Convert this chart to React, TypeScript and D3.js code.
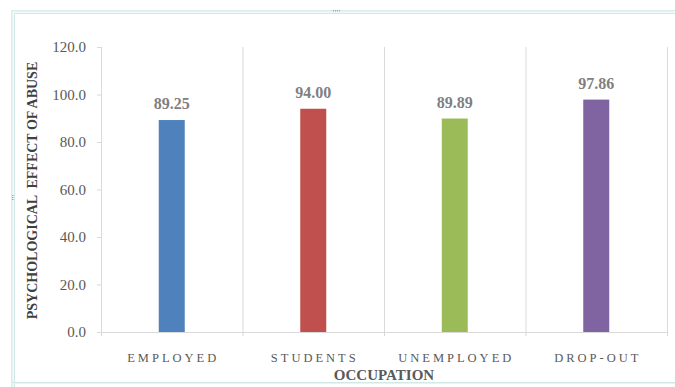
import React from "react";
import * as d3 from "d3";

const categories = ["EMPLOYED", "STUDENTS", "UNEMPLOYED", "DROP-OUT"];
const values = [89.25, 94.0, 89.89, 97.86];
const colors = ["#4F81BD", "#C0504D", "#9BBB59", "#8064A2"];
const yTicks = [0, 20, 40, 60, 80, 100, 120];

export default function App() {
  const W = 675, H = 387;
  const left = 101, right = 667, top = 47, bottom = 332;
  const x = d3.scaleBand<string>().domain(categories).range([left, right]).paddingInner(0).paddingOuter(0);
  const y = d3.scaleLinear().domain([0, 120]).range([bottom, top]);
  const barW = 26;
  const serif = "'Liberation Serif', 'Times New Roman', serif";
  return (
    <svg width={W} height={H} style={{ position: "absolute", left: 0, top: 0, background: "#fff" }}>
      {/* frame */}
      <path d={`M11.5,${H + 5} L11.5,10.5 L${W + 5},10.5`} fill="none" stroke="#cfe6e6" strokeWidth={1} />
      <path d={`M12.5,${H + 5} L12.5,11.5 L${W + 5},11.5`} fill="none" stroke="#e6f4f4" strokeWidth={2} />
      <path d={`M14.5,${H + 5} L14.5,13.5 L${W + 5},13.5`} fill="none" stroke="#d4e8e8" strokeWidth={1} />
      <line x1={11} x2={W + 5} y1={382.5} y2={382.5} stroke="#d4e8e8" strokeWidth={1} />
      <line x1={11} x2={W + 5} y1={383.5} y2={383.5} stroke="#e6f4f4" strokeWidth={1} />
      <g fill="#9aa">
        {[0, 2, 4, 6].map((d) => (
          <rect key={d} x={333 + d} y={10} width={1} height={1.5} />
        ))}
        {[0, 2, 4].map((d) => (
          <rect key={"l" + d} x={12} y={195 + d} width={1.5} height={1} />
        ))}
      </g>
      {/* vertical gridlines */}
      {categories.map((c) => (
        <line key={c} x1={x(c)! + x.bandwidth() + 0.5} x2={x(c)! + x.bandwidth() + 0.5} y1={top} y2={bottom + 4}
          stroke="#d9d9d9" strokeWidth={1} />
      ))}
      {/* axes */}
      <line x1={left + 0.5} x2={left + 0.5} y1={top} y2={bottom + 4} stroke="#d9d9d9" />
      <line x1={left - 4} x2={right} y1={bottom + 0.5} y2={bottom + 0.5} stroke="#d9d9d9" />
      {yTicks.map((t) => (
        <g key={t}>
          <line x1={left - 4} x2={left} y1={y(t) + 0.5} y2={y(t) + 0.5} stroke="#d9d9d9" />
          <text x={86} y={y(t) + 5} textAnchor="end" fontFamily={serif} fontSize={15} fill="#595959">
            {t.toFixed(1)}
          </text>
        </g>
      ))}
      {/* bars */}
      {categories.map((c, i) => {
        const cx = x(c)! + x.bandwidth() / 2;
        return (
          <g key={c}>
            <rect x={cx - barW / 2} y={y(values[i])} width={barW} height={bottom - y(values[i])} fill={colors[i]} />
            <text x={cx} y={y(values[i]) - 11} textAnchor="middle" fontFamily={serif} fontSize={16}
              fontWeight="bold" fill="#7f7f7f">
              {values[i].toFixed(2)}
            </text>
            <text x={cx + 1.5} y={362} textAnchor="middle" fontFamily={serif} fontSize={12.5} letterSpacing={3}
              fill="#595959">
              {c}
            </text>
          </g>
        );
      })}
      <text x={(left + right) / 2} y={380} textAnchor="middle" fontFamily={serif} fontSize={15} fontWeight="bold"
        fill="#595959">
        OCCUPATION
      </text>
      <text transform={`translate(37,${(top + bottom) / 2 + 1}) rotate(-90)`} textAnchor="middle" fontFamily={serif}
        fontSize={14} fontWeight="bold" fill="#404040" xmlSpace="preserve">
        {"PSYCHOLOGICAL  EFFECT OF ABUSE"}
      </text>
    </svg>
  );
}
